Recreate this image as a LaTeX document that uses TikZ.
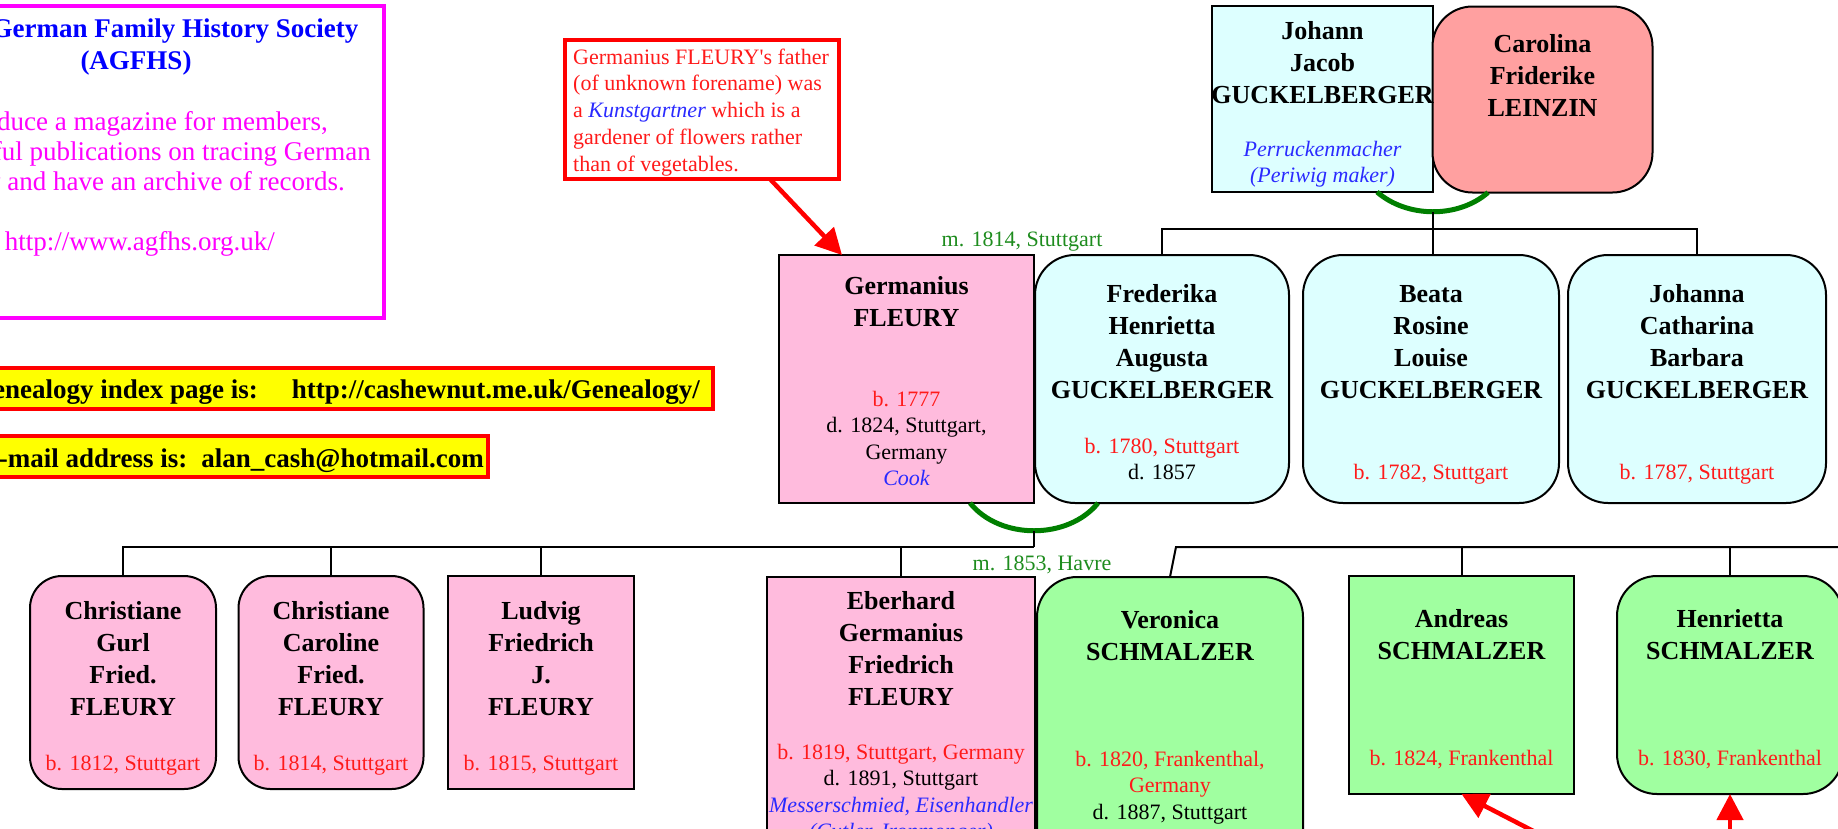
\documentclass[tikz,border=0pt]{standalone}
\usepackage{fontspec}
\setmainfont{Liberation Serif}
\usetikzlibrary{arrows.meta,calc}
\definecolor{pinkF}{HTML}{FFBBDD}
\definecolor{cyanF}{HTML}{DDFFFF}
\definecolor{salmonF}{HTML}{FFA0A0}
\definecolor{greenF}{HTML}{A0FFA0}
\definecolor{yellowF}{HTML}{FFFF00}
\definecolor{magentaC}{HTML}{FF00FF}
\definecolor{redC}{HTML}{FF0000}
\definecolor{redT}{HTML}{FF1A1A}
\definecolor{blueT}{HTML}{0000FF}
\definecolor{blueI}{HTML}{2A2AFF}
\definecolor{greenT}{HTML}{1E8C1E}
\definecolor{greenA}{HTML}{007F00}
\tikzset{
  person/.style={draw=black, line width=2pt, inner sep=0pt, outer sep=0pt},
  rperson/.style={person, rounded corners=40pt},
  nametext/.style={anchor=base, align=center, inner sep=0pt, font=\fontsize{26pt}{32pt}\selectfont\bfseries},
  datetext/.style={anchor=base, align=center, inner sep=0pt, font=\fontsize{22pt}{26.5pt}\selectfont},
  conn/.style={draw=black, line width=2pt},
  marriage/.style={draw=greenA, line width=5pt},
  marrlabel/.style={anchor=base, inner sep=0pt, text=greenT, font=\fontsize{22pt}{26pt}\selectfont},
  notearrow/.style={draw=redC, line width=4.5pt, -{Triangle[length=26pt,width=26pt]}},
  notebox/.style={draw=redC, line width=4pt, fill=white, inner sep=0pt, outer sep=0pt},
  ybox/.style={draw=redC, line width=4pt, fill=yellowF, inner sep=0pt, outer sep=0pt},
  ytext/.style={anchor=base east, inner sep=0pt, font=\fontsize{27pt}{32pt}\selectfont\bfseries},
  pinktext/.style={anchor=base east, inner sep=0pt, text=magentaC, font=\fontsize{27pt}{30pt}\selectfont},
}
\begin{document}
\begin{tikzpicture}[x=1pt,y=-1pt]
\useasboundingbox (0,0) rectangle (1838,828);
\clip (0,0) rectangle (1838,828);

% multi-line text nodes are placed by the baseline of their LAST line

% ---------- society box ----------
\node[draw=magentaC, line width=4.5pt, fill=white, minimum width=497pt, minimum height=312pt, inner sep=0pt] (agfhs) at (135.5,162) {};
\node[anchor=base, align=center, inner sep=0pt, text=blueT, font=\fontsize{27pt}{32pt}\selectfont\bfseries] (agfhstitle) at (136,69) {Anglo-German Family History Society\\(AGFHS)};
\node[pinktext] (agfhsa) at (328,130) {We produce a magazine for members,};
\node[pinktext] (agfhsb) at (371,160) {and useful publications on tracing German};
\node[pinktext] (agfhsc) at (345,190) {ancestry and have an archive of records.};
\node[pinktext] (agfhsd) at (275,250) {http://www.agfhs.org.uk/};

% ---------- yellow boxes ----------
\node[ybox, minimum width=763pt, minimum height=41pt] (yb1) at (331,388.5) {};
\node[ytext] (yt1) at (700,398) {My Genealogy index page is:\hspace{34pt}http://cashewnut.me.uk/Genealogy/};
\node[ybox, minimum width=538pt, minimum height=41pt] (yb2) at (218.6,456.5) {};
\node[ytext] (yt2) at (484,467) {My E-mail address is:\hspace{14pt}alan\_cash@hotmail.com};

% ---------- note ----------
\node[notebox, minimum width=274pt, minimum height=139pt] (note) at (702,109.5) {};
\node[anchor=base west, align=left, inner sep=0pt, text=redT, font=\fontsize{22pt}{26.75pt}\selectfont] (notetext) at (573,171) {Germanius FLEURY\textquotesingle s father\\(of unknown forename) was\\a \textcolor{blueI}{\itshape Kunstgartner} which is a\\gardener of flowers rather\\than of vegetables.};

% ---------- generation 1 ----------
\node[person, fill=cyanF, minimum width=221pt, minimum height=186pt] (johann) at (1322.5,99) {};
\node[rperson, fill=salmonF, minimum width=220pt, minimum height=186pt] (carolina) at (1542.5,99.5) {};
\node[nametext] (johannn) at (1322.5,103) {Johann\\Jacob\\GUCKELBERGER};
\node[datetext, text=blueI, font=\fontsize{22pt}{26.5pt}\selectfont\itshape] (johannd) at (1322.5,182.5) {Perruckenmacher\\(Periwig maker)};
\node[nametext] (carolinan) at (1542.5,116) {Carolina\\Friderike\\LEINZIN};

% ---------- generation 2 ----------
\node[person, fill=pinkF, minimum width=255pt, minimum height=248pt] (germanius) at (906.5,379) {};
\node[rperson, fill=cyanF, minimum width=254pt, minimum height=248pt] (frederika) at (1162,379) {};
\node[rperson, fill=cyanF, minimum width=256pt, minimum height=248pt] (beata) at (1431,379) {};
\node[rperson, fill=cyanF, minimum width=258pt, minimum height=248pt] (johanna) at (1697,379) {};

\node[nametext] (germaniusn) at (906.5,326) {Germanius\\FLEURY};
\node[datetext] (germaniusd) at (906.5,485.5) {\textcolor{redT}{b. 1777}\\d. 1824, Stuttgart,\\Germany\\\textcolor{blueI}{\itshape Cook}};
\node[nametext] (frederikan) at (1162,398) {Frederika\\Henrietta\\Augusta\\GUCKELBERGER};
\node[datetext] (frederikad) at (1162,479.5) {\textcolor{redT}{b. 1780, Stuttgart}\\d. 1857};
\node[nametext] (beatan) at (1431,398) {Beata\\Rosine\\Louise\\GUCKELBERGER};
\node[datetext, text=redT] (beatad) at (1431,479) {b. 1782, Stuttgart};
\node[nametext] (johannan) at (1697,398) {Johanna\\Catharina\\Barbara\\GUCKELBERGER};
\node[datetext, text=redT] (johannad) at (1697,479) {b. 1787, Stuttgart};

% ---------- generation 3 ----------
\node[rperson, rounded corners=32pt, fill=pinkF, minimum width=186pt, minimum height=213pt] (cg) at (123,682.5) {};
\node[rperson, rounded corners=32pt, fill=pinkF, minimum width=185pt, minimum height=213pt] (cc) at (331,682.5) {};
\node[person, fill=pinkF, minimum width=186pt, minimum height=213pt] (lud) at (541,682.5) {};
\node[person, fill=pinkF, minimum width=268pt, minimum height=300pt] (eb) at (901,727) {};
\node[rperson, fill=greenF, minimum width=266pt, minimum height=300pt] (veronica) at (1170,727) {};
\node[person, fill=greenF, minimum width=225pt, minimum height=218pt] (andreas) at (1461.5,685) {};
\node[rperson, fill=greenF, minimum width=226pt, minimum height=218pt] (henrietta) at (1730,685) {};

\node[nametext] (cgn) at (123,715) {Christiane\\Gurl\\Fried.\\FLEURY};
\node[datetext, text=redT] (cgd) at (123,770) {b. 1812, Stuttgart};
\node[nametext] (ccn) at (331,715) {Christiane\\Caroline\\Fried.\\FLEURY};
\node[datetext, text=redT] (ccd) at (331,770) {b. 1814, Stuttgart};
\node[nametext] (ludn) at (541,715) {Ludvig\\Friedrich\\J.\\FLEURY};
\node[datetext, text=redT] (ludd) at (541,770) {b. 1815, Stuttgart};
\node[nametext] (ebn) at (901,705) {Eberhard\\Germanius\\Friedrich\\FLEURY};
\node[datetext] (ebd) at (901,838.5) {\textcolor{redT}{b. 1819, Stuttgart, Germany}\\d. 1891, Stuttgart\\\textcolor{blueI}{\itshape Messerschmied, Eisenhandler}\\\textcolor{blueI}{\itshape (Cutler, Ironmonger)}};
\node[nametext] (veronican) at (1170,660) {Veronica\\SCHMALZER};
\node[datetext] (veronicad) at (1170,819) {\textcolor{redT}{b. 1820, Frankenthal,}\\\textcolor{redT}{Germany}\\d. 1887, Stuttgart};
\node[nametext] (andreasn) at (1461.5,659) {Andreas\\SCHMALZER};
\node[datetext, text=redT] (andreasd) at (1461.5,765) {b. 1824, Frankenthal};
\node[nametext] (henriettan) at (1730,659) {Henrietta\\SCHMALZER};
\node[datetext, text=redT] (henriettad) at (1730,765) {b. 1830, Frankenthal};

% ---------- marriages and descent lines ----------
\coordinate (jcl) at ($(johann.south)+(54.5,0)$);
\coordinate (jcr) at ($(carolina.south)+(-54.5,0)$);
\coordinate (jcm) at ($(jcl)!0.5!(jcr)+(0,19.5)$);
\coordinate (bus1) at ($(jcm)+(0,17.5)$);
\draw[marriage] (jcl) .. controls ($(jcl)+(30,26)$) and ($(jcr)+(-30,26)$) .. (jcr);
\draw[conn] (jcm) -- (jcm |- beata.north);
\draw[conn] (frederika.north) |- (bus1) -| (johanna.north);
\node[marrlabel] (m1814) at (1022,246) {m. 1814, Stuttgart};

\coordinate (gfl) at ($(germanius.south)+(63.5,0)$);
\coordinate (gfr) at ($(frederika.south)+(-64,0)$);
\coordinate (gfm) at ($(gfl)!0.5!(gfr)+(0,28)$);
\coordinate (bus2) at ($(gfm)+(0,16)$);
\draw[marriage] (gfl) .. controls ($(gfl)+(30,37)$) and ($(gfr)+(-30,37)$) .. (gfr);
\draw[conn] (gfm) -- (bus2);
\draw[conn] (cg.north) |- (bus2);
\draw[conn] (cc.north) -- (cc.north |- bus2);
\draw[conn] (lud.north) -- (lud.north |- bus2);
\draw[conn] (eb.north) -- (eb.north |- bus2);
\node[marrlabel] (m1853) at (1042,570) {m. 1853, Havre};

\coordinate (vbus) at ($(veronica.north)+(6,-30)$);
\coordinate (vbusend) at (1850,547);
\draw[conn] (veronica.north) -- (vbus) -- (vbusend);
\draw[conn] (andreas.north) -- (andreas.north |- vbus);
\draw[conn] (henrietta.north) -- (henrietta.north |- vbus);

% ---------- note arrows ----------
\draw[notearrow] ($(note.south west)+(205,0)$) -- ($(germanius.north west)+(63,0)$);
\coordinate (arrsrca) at (1605,868);
\coordinate (arrsrcb) at (1730,880);
\draw[notearrow] (arrsrca) -- (andreas.south);
\draw[notearrow] (arrsrcb) -- (henrietta.south);
\end{tikzpicture}
\end{document}
